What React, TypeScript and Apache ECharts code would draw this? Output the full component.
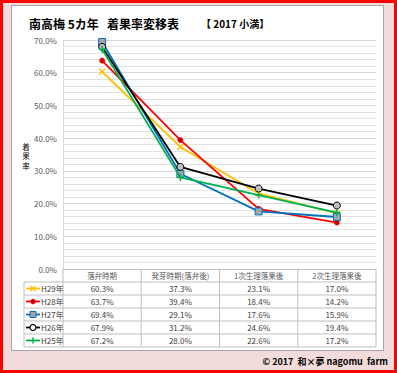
import React, { useEffect, useRef } from 'react';
import * as echarts from 'echarts';

const categories = ['落弁時期', '発芽時期(落弁後)', '1次生理落果後', '2次生理落果後'];
const seriesNames = ['H29年', 'H28年', 'H27年', 'H26年', 'H25年'];
const h29 = [60.3, 37.3, 23.1, 17.0];
const h28 = [63.7, 39.4, 18.4, 14.2];
const h27 = [69.4, 29.1, 17.6, 15.9];
const h26 = [67.9, 31.2, 24.6, 19.4];
const h25 = [67.2, 28.0, 22.6, 17.2];
const seriesValues = [h29, h28, h27, h26, h25];
const yMax = 70;
const yInterval = 10;
const yTitleChars = ['着', '果', '率'];

const FONT = '"Noto Sans CJK JP", "Noto Sans", sans-serif';
const colors = ['#ffc000', '#ff0000', '#0070c0', '#000000', '#00b050'];
const CROSS = 'path://M0,0L10,10M10,0L0,10';
const PLUS = 'path://M5,0L5,10M0,5L10,5';
const markers = [
  { symbol: CROSS, symbolSize: 6, itemStyle: { color: '#ffc000', borderColor: '#ffc000', borderWidth: 1.5 } },
  { symbol: 'circle', symbolSize: 5, itemStyle: { color: '#c00000', borderColor: '#ff0000', borderWidth: 1 } },
  { symbol: 'rect', symbolSize: 7, itemStyle: { color: '#a5a5a5', borderColor: '#0070c0', borderWidth: 1 } },
  { symbol: 'circle', symbolSize: 7, itemStyle: { color: '#bfbfbf', borderColor: '#000000', borderWidth: 1 } },
  { symbol: PLUS, symbolSize: 7, itemStyle: { color: '#00b050', borderColor: '#00b050', borderWidth: 1.5 } },
];

const W = 397;
const H = 373;
const plotLeft = 63;
const plotRight = 376;
const plotTop = 40;
const plotBottom = 269;
const tableLeft = 24;
const headerH = 13;
const rowH = 13;
const gridColor = '#bfbfbf';
const textColor = '#404040';

function legendKey(i: number, cx: number, cy: number): any[] {
  const c = colors[i];
  const els: any[] = [
    { type: 'line', shape: { x1: cx - 7, y1: cy, x2: cx + 7, y2: cy }, style: { stroke: c, lineWidth: 1.8 } },
  ];
  if (i === 0) {
    els.push({ type: 'line', shape: { x1: cx - 2.5, y1: cy - 2.5, x2: cx + 2.5, y2: cy + 2.5 }, style: { stroke: c, lineWidth: 1.5 } });
    els.push({ type: 'line', shape: { x1: cx + 2.5, y1: cy - 2.5, x2: cx - 2.5, y2: cy + 2.5 }, style: { stroke: c, lineWidth: 1.5 } });
  } else if (i === 1) {
    els.push({ type: 'circle', shape: { cx, cy, r: 2.3 }, style: { fill: '#c00000', stroke: '#ff0000', lineWidth: 1 } });
  } else if (i === 2) {
    els.push({ type: 'rect', shape: { x: cx - 3, y: cy - 3, width: 6, height: 6 }, style: { fill: '#a5a5a5', stroke: '#0070c0', lineWidth: 1 } });
  } else if (i === 3) {
    els.push({ type: 'circle', shape: { cx, cy, r: 3 }, style: { fill: '#ffffff', stroke: '#000000', lineWidth: 1.2 } });
  } else {
    els.push({ type: 'line', shape: { x1: cx, y1: cy - 3, x2: cx, y2: cy + 3 }, style: { stroke: c, lineWidth: 1.5 } });
  }
  return els;
}

export default function App() {
  const ref = useRef<HTMLDivElement>(null);

  useEffect(() => {
    if (!ref.current) return;
    const chart = echarts.init(ref.current, null, { renderer: 'svg', width: W, height: H });

    const colW = (plotRight - plotLeft) / categories.length;
    const graphic: any[] = [];
    const tableTop = plotBottom + headerH;
    const tableBottom = tableTop + rowH * seriesNames.length;

    for (let r = 0; r <= seriesNames.length; r++) {
      const y = tableTop + r * rowH;
      graphic.push({ type: 'line', shape: { x1: tableLeft, y1: y, x2: plotRight, y2: y }, style: { stroke: gridColor, lineWidth: 1 } });
    }
    graphic.push({ type: 'line', shape: { x1: tableLeft, y1: tableTop, x2: tableLeft, y2: tableBottom }, style: { stroke: gridColor, lineWidth: 1 } });
    for (let c = 0; c <= categories.length; c++) {
      const x = plotLeft + c * colW;
      graphic.push({ type: 'line', shape: { x1: x, y1: plotBottom, x2: x, y2: tableBottom }, style: { stroke: gridColor, lineWidth: 1 } });
    }
    seriesNames.forEach((name, r) => {
      const cy = tableTop + r * rowH + rowH / 2;
      legendKey(r, 33, cy).forEach((e) => graphic.push(e));
      graphic.push({
        type: 'text', x: 41, y: cy,
        style: { text: name, fill: textColor, font: `8px ${FONT}`, textAlign: 'left', textVerticalAlign: 'middle' },
      });
      seriesValues[r].forEach((v, c) => {
        graphic.push({
          type: 'text', x: plotLeft + colW * (c + 0.5), y: cy,
          style: { text: `${v.toFixed(1)}%`, fill: textColor, font: `8px ${FONT}`, textAlign: 'center', textVerticalAlign: 'middle' },
        });
      });
    });

    graphic.push({ type: 'text', x: 29, y: 23, style: { text: '南高梅 5カ年', fill: '#000', font: `bold 12px ${FONT}`, textVerticalAlign: 'middle' } });
    graphic.push({ type: 'text', x: 107, y: 23, style: { text: '着果率変移表', fill: '#000', font: `bold 12px ${FONT}`, textVerticalAlign: 'middle' } });
    graphic.push({ type: 'text', x: 201, y: 23, style: { text: '【 2017 小満】', fill: '#000', font: `bold 10px ${FONT}`, textVerticalAlign: 'middle' } });
    yTitleChars.forEach((ch, k) => {
      graphic.push({ type: 'text', x: 26, y: 146 + k * 9.5, style: { text: ch, fill: '#000', font: `7.5px ${FONT}`, textAlign: 'center', textVerticalAlign: 'middle' } });
    });
    graphic.push({ type: 'text', x: 388, y: 361, style: { text: '© 2017  和×夢 nagomu  farm', fill: '#000', font: `bold 9px ${FONT}`, textAlign: 'right', textVerticalAlign: 'middle' } });

    chart.setOption({
      animation: false,
      textStyle: { fontFamily: FONT },
      grid: {
        left: plotLeft, right: W - plotRight, top: plotTop, bottom: H - plotBottom,
        containLabel: false, outerBoundsMode: 'none',
      },
      xAxis: {
        type: 'category',
        data: categories,
        boundaryGap: true,
        axisLine: { show: true, lineStyle: { color: gridColor, width: 1 } },
        axisTick: { show: false },
        axisLabel: { interval: 0, margin: 3, fontSize: 7.5, color: '#595959', fontFamily: FONT },
        splitLine: { show: false },
      },
      yAxis: {
        type: 'value',
        min: 0, max: yMax, interval: yInterval,
        axisLine: { show: true, lineStyle: { color: '#d9d9d9' } },
        axisTick: { show: false },
        axisLabel: { margin: 6, fontSize: 8, color: '#595959', fontFamily: FONT, formatter: (v: number) => `${v.toFixed(1)}%` },
        splitLine: { show: true, lineStyle: { color: '#d9d9d9', width: 1 } },
        minorTick: { show: false, splitNumber: 5 },
        minorSplitLine: { show: true, lineStyle: { color: '#e2e2e2', width: 1 } },
      },
      graphic: { elements: graphic },
      series: seriesNames.map((name, i) => ({
        type: 'line',
        name,
        data: seriesValues[i],
        symbol: markers[i].symbol,
        symbolSize: markers[i].symbolSize,
        showSymbol: true,
        itemStyle: markers[i].itemStyle,
        lineStyle: { color: colors[i], width: 1.8 },
        emphasis: { disabled: true },
        z: 2 + i,
      })),
    });

    return () => chart.dispose();
  }, []);

  return (
    <div style={{ position: 'fixed', left: 0, top: 0, width: W, height: H, background: '#f2dcdb' }}>
      <div style={{ position: 'absolute', left: 0, top: 0, width: W, height: H, border: '3px solid #ff0000', boxSizing: 'border-box' }} />
      <div style={{ position: 'absolute', left: 11, top: 5, width: 373, height: 346, background: '#ffffff', border: '1px solid #a6a6a6', boxSizing: 'border-box' }} />
      <div ref={ref} style={{ position: 'absolute', left: 0, top: 0, width: W, height: H }} />
    </div>
  );
}
